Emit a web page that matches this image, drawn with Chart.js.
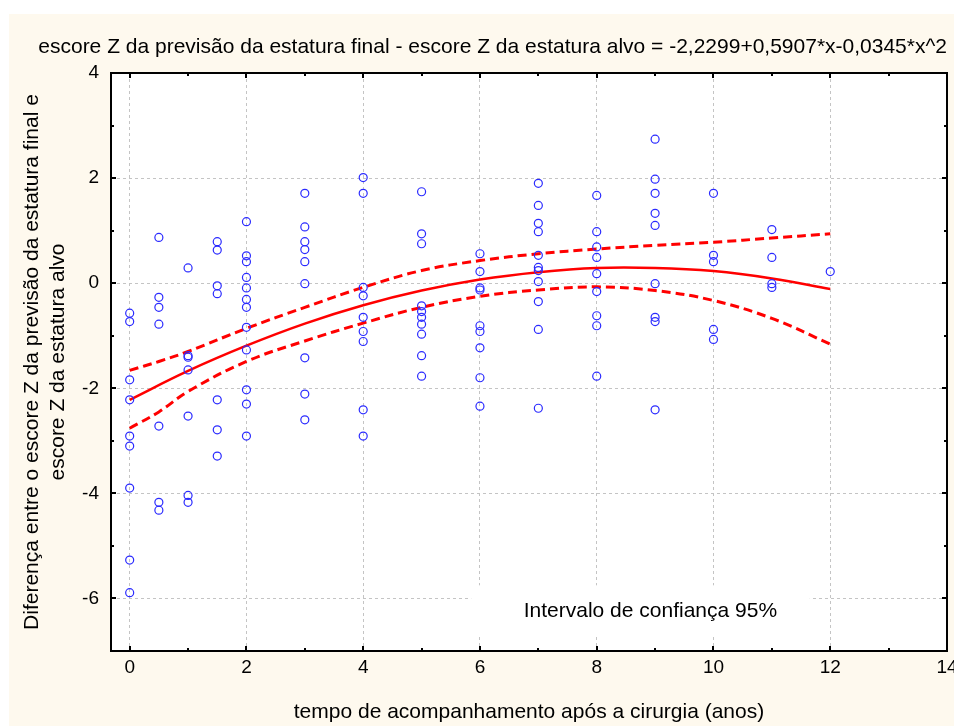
<!DOCTYPE html>
<html><head><meta charset="utf-8">
<script src="https://cdn.jsdelivr.net/npm/chart.js@4.4.1/dist/chart.umd.min.js"></script>
<style>html,body{margin:0;padding:0;background:#fff;}canvas{display:block;}</style>
</head><body>
<canvas id="c" width="954" height="726"></canvas>
<script>
const chartTitle = 'escore Z da previsão da estatura final - escore Z da estatura alvo = -2,2299+0,5907*x-0,0345*x^2';
const xAxisTitle = 'tempo de acompanhamento após a cirurgia (anos)';
const yAxisTitle = ['Diferença entre o escore Z da previsão da estatura final e', 'escore Z da estatura alvo'];
const legendLabel = 'Intervalo de confiança 95%';
const xTickValues = [0, 2, 4, 6, 8, 10, 12, 14];
const yTickValues = [-6, -4, -2, 0, 2, 4];

const pointYears = [
  0,0,0,0,0,0,0,0,0,
  0.5,0.5,0.5,0.5,0.5,0.5,0.5,
  1,1,1,1,1,1,1,
  1.5,1.5,1.5,1.5,1.5,1.5,1.5,
  2,2,2,2,2,2,2,2,2,2,2,2,
  3,3,3,3,3,3,3,3,3,
  4,4,4,4,4,4,4,4,4,
  5,5,5,5,5,5,5,5,5,5,
  6,6,6,6,6,6,6,6,6,
  7,7,7,7,7,7,7,7,7,7,7,
  8,8,8,8,8,8,8,8,8,
  9,9,9,9,9,9,9,9,9,
  10,10,10,10,10,
  11,11,11,11,
  12
];
const pointScores = [
  -0.57,-0.73,-1.84,-2.22,-2.91,-3.10,-3.90,-5.27,-5.89,
  0.87,-0.27,-0.46,-0.78,-2.72,-4.17,-4.32,
  0.29,-1.38,-1.41,-1.65,-2.53,-4.04,-4.17,
  0.79,0.63,-0.05,-0.20,-2.22,-2.79,-3.29,
  1.17,0.52,0.41,0.11,-0.09,-0.31,-0.46,-0.84,-1.27,-2.03,-2.30,-2.91,
  1.71,1.07,0.79,0.64,0.41,-0.01,-1.42,-2.11,-2.60,
  2.01,1.71,-0.08,-0.24,-0.65,-0.92,-1.11,-2.41,-2.91,
  1.74,0.94,0.75,-0.43,-0.54,-0.65,-0.78,-0.97,-1.38,-1.77,
  0.56,0.22,-0.09,-0.13,-0.81,-0.92,-1.23,-1.80,-2.34,
  1.90,1.48,1.14,0.98,0.53,0.30,0.24,0.03,-0.35,-0.88,-2.38,
  1.67,0.98,0.69,0.49,0.18,-0.16,-0.62,-0.81,-1.77,
  2.74,1.98,1.71,1.33,1.10,-0.01,-0.65,-0.73,-2.41,
  1.71,0.53,0.41,-0.88,-1.07,
  1.02,0.49,-0.01,-0.08,
  0.22
];

const fitYears  = [0, 1, 2, 3, 4, 5, 6, 7, 8, 9, 10, 11, 12];
const fitScores = [-2.22, -1.67, -1.19, -0.77, -0.42, -0.14, 0.07, 0.21, 0.29, 0.29, 0.23, 0.09, -0.11];

const bandYears  = [0, 0.5, 1, 2, 3, 4, 5, 6, 7, 8, 9, 10, 11, 12];
const upperBand  = [-1.66, -1.49, -1.30, -0.86, -0.46, -0.08, 0.24, 0.43, 0.56, 0.65, 0.72, 0.78, 0.86, 0.94];
const lowerBand  = [-2.76, -2.45, -2.06, -1.49, -1.10, -0.76, -0.46, -0.25, -0.13, -0.07, -0.14, -0.33, -0.67, -1.16];

const FONT = "'Liberation Sans', Arial, sans-serif";
const toXY = (xs, ys) => xs.map((x, i) => ({x: x, y: ys[i]}));

const decorPlugin = {
  id: 'decor',
  beforeDraw(chart) {
    const {ctx, chartArea: a} = chart;
    ctx.save();
    ctx.fillStyle = '#ffffff';
    ctx.fillRect(0, 0, chart.width, chart.height);
    ctx.fillStyle = '#fef9ee';
    ctx.fillRect(9, 14, chart.width - 9, chart.height - 14);
    ctx.fillStyle = '#ffffff';
    ctx.fillRect(a.left, a.top, a.right - a.left, a.bottom - a.top);
    ctx.restore();
  },
  afterDatasetsDraw(chart) {
    const {ctx, chartArea: a, scales} = chart;
    const xs = scales.x, ys = scales.y;
    ctx.save();
    const bx0 = xs.getPixelForValue(5.85), bx1 = xs.getPixelForValue(11.65);
    const by0 = ys.getPixelForValue(-5.75), by1 = ys.getPixelForValue(-6.72);
    ctx.fillStyle = '#ffffff';
    ctx.fillRect(bx0, by0, bx1 - bx0, by1 - by0);
    ctx.fillStyle = '#000';
    ctx.font = '21px ' + FONT;
    ctx.textBaseline = 'middle';
    ctx.textAlign = 'left';
    ctx.fillText(legendLabel, xs.getPixelForValue(6.75), ys.getPixelForValue(-6.25));
    ctx.strokeStyle = '#000';
    ctx.lineWidth = 2;
    ctx.beginPath();
    for (let v = 0; v <= 14; v++) {
      const p = Math.round(xs.getPixelForValue(v));
      const len = v % 2 === 0 ? 5 : 3;
      ctx.moveTo(p, a.bottom); ctx.lineTo(p, a.bottom - len);
      ctx.moveTo(p, a.top); ctx.lineTo(p, a.top + len);
    }
    for (let v = -6; v <= 4; v++) {
      const p = Math.round(ys.getPixelForValue(v));
      const len = v % 2 === 0 ? 5 : 3;
      ctx.moveTo(a.left, p); ctx.lineTo(a.left + len, p);
      ctx.moveTo(a.right, p); ctx.lineTo(a.right - len, p);
    }
    ctx.stroke();
    ctx.strokeRect(a.left, a.top, a.right - a.left, a.bottom - a.top);
    ctx.restore();
  }
};

new Chart(document.getElementById('c'), {
  type: 'scatter',
  data: {
    datasets: [
      {
        label: 'dados',
        data: toXY(pointYears, pointScores),
        pointStyle: 'circle',
        pointRadius: 4,
        pointHoverRadius: 4,
        borderWidth: 1.2,
        borderColor: '#2a2aff',
        backgroundColor: 'rgba(0,0,0,0)'
      },
      {
        label: 'ajuste',
        data: toXY(fitYears, fitScores),
        showLine: true,
        pointRadius: 0,
        borderColor: '#ff0000',
        borderWidth: 2.5,
        tension: 0.4,
        fill: false
      },
      {
        label: 'superior',
        data: toXY(bandYears, upperBand),
        showLine: true,
        pointRadius: 0,
        borderColor: '#ff0000',
        borderWidth: 3,
        borderDash: [9, 5],
        tension: 0.4,
        fill: false
      },
      {
        label: 'inferior',
        data: toXY(bandYears, lowerBand),
        showLine: true,
        pointRadius: 0,
        borderColor: '#ff0000',
        borderWidth: 3,
        borderDash: [9, 5],
        tension: 0.4,
        fill: false
      }
    ]
  },
  options: {
    responsive: false,
    animation: false,
    events: [],
    layout: {padding: {top: 0, left: 9, right: 7, bottom: 0}},
    plugins: {
      legend: {display: false},
      tooltip: {enabled: false},
      title: {
        display: true,
        text: chartTitle,
        align: 'end',
        color: '#000',
        font: {family: FONT, size: 21, weight: 'normal', lineHeight: 1.2},
        padding: {top: 34.4, bottom: 13.4}
      }
    },
    scales: {
      x: {
        type: 'linear',
        min: -0.32,
        max: 14,
        afterBuildTicks: s => { s.ticks = xTickValues.map(v => ({value: v})); },
        afterFit: s => { s.height = 75; s.paddingLeft = 0; s.paddingRight = 0; },
        ticks: {
          color: '#000',
          font: {family: FONT, size: 19},
          padding: 5,
          maxRotation: 0,
          autoSkip: false
        },
        grid: {color: '#c4c4c4', lineWidth: 1, drawTicks: false},
        border: {display: false, dash: [3, 3]},
        title: {
          display: true,
          text: xAxisTitle,
          color: '#000',
          font: {family: FONT, size: 21, lineHeight: 1.2},
          padding: {top: 0, bottom: 1.4}
        }
      },
      y: {
        type: 'linear',
        min: -7,
        max: 4,
        afterBuildTicks: s => { s.ticks = yTickValues.map(v => ({value: v})); },
        afterFit: s => { s.width = 102; s.paddingTop = 0; s.paddingBottom = 0; },
        ticks: {
          color: '#000',
          font: {family: FONT, size: 19},
          padding: 12,
          autoSkip: false
        },
        grid: {color: '#c4c4c4', lineWidth: 1, drawTicks: false},
        border: {display: false, dash: [3, 3]},
        title: {
          display: true,
          text: yAxisTitle,
          color: '#000',
          font: {family: FONT, size: 21, lineHeight: 1.25},
          padding: {top: 9.9, bottom: 0}
        }
      }
    }
  },
  plugins: [decorPlugin]
});
</script>
</body></html>
